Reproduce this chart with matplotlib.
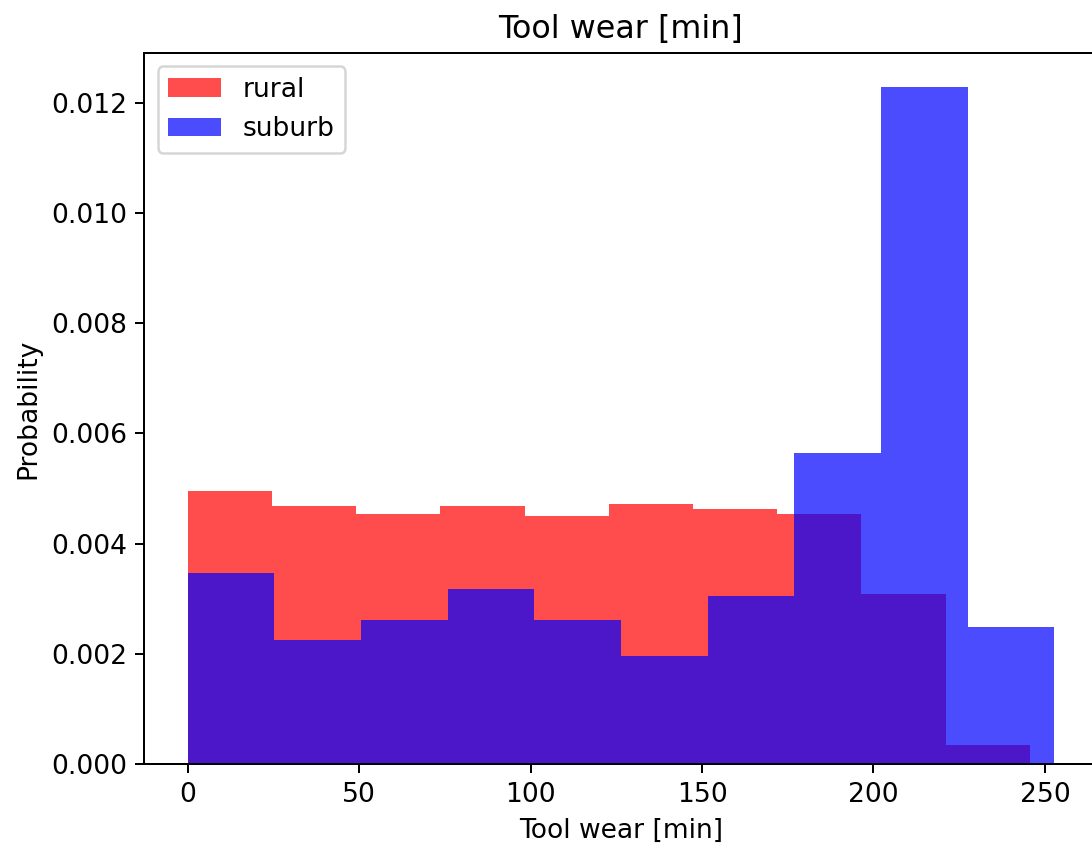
import numpy as np
import matplotlib
matplotlib.use('Agg')
import matplotlib.pyplot as plt

## density histograms of tool wear, rural vs suburb

# bin ranges (min, max) and bin count
rural_range = (0, 245.6)
suburb_range = (0, 252.7)
nbins = 10

# bar heights (density)
rural_density = [0.00496, 0.00468, 0.00454, 0.00468, 0.00450,
                 0.00472, 0.00463, 0.00454, 0.00309, 0.00035]
suburb_density = [0.00347, 0.00225, 0.00261, 0.00318, 0.00261,
                  0.00196, 0.00305, 0.00565, 0.01229, 0.00249]

rural_edges = np.linspace(rural_range[0], rural_range[1], nbins + 1)
suburb_edges = np.linspace(suburb_range[0], suburb_range[1], nbins + 1)

plt.rcParams['font.size'] = 10.6

fig = plt.figure(figsize=(1092 / 180, 851 / 180), dpi=180)
ax = fig.add_axes([0.1323, 0.1022, 0.8727, 0.8355])

ax.hist(rural_edges[:-1], bins=rural_edges, weights=rural_density,
        color='red', alpha=0.7, label='rural')
ax.hist(suburb_edges[:-1], bins=suburb_edges, weights=suburb_density,
        color='blue', alpha=0.7, label='suburb')

ax.set_title('Tool wear [min]')
ax.set_xlabel('Tool wear [min]')
ax.set_ylabel('Probability')
ax.legend(loc='upper left')

fig.savefig('out.png', dpi=180)
